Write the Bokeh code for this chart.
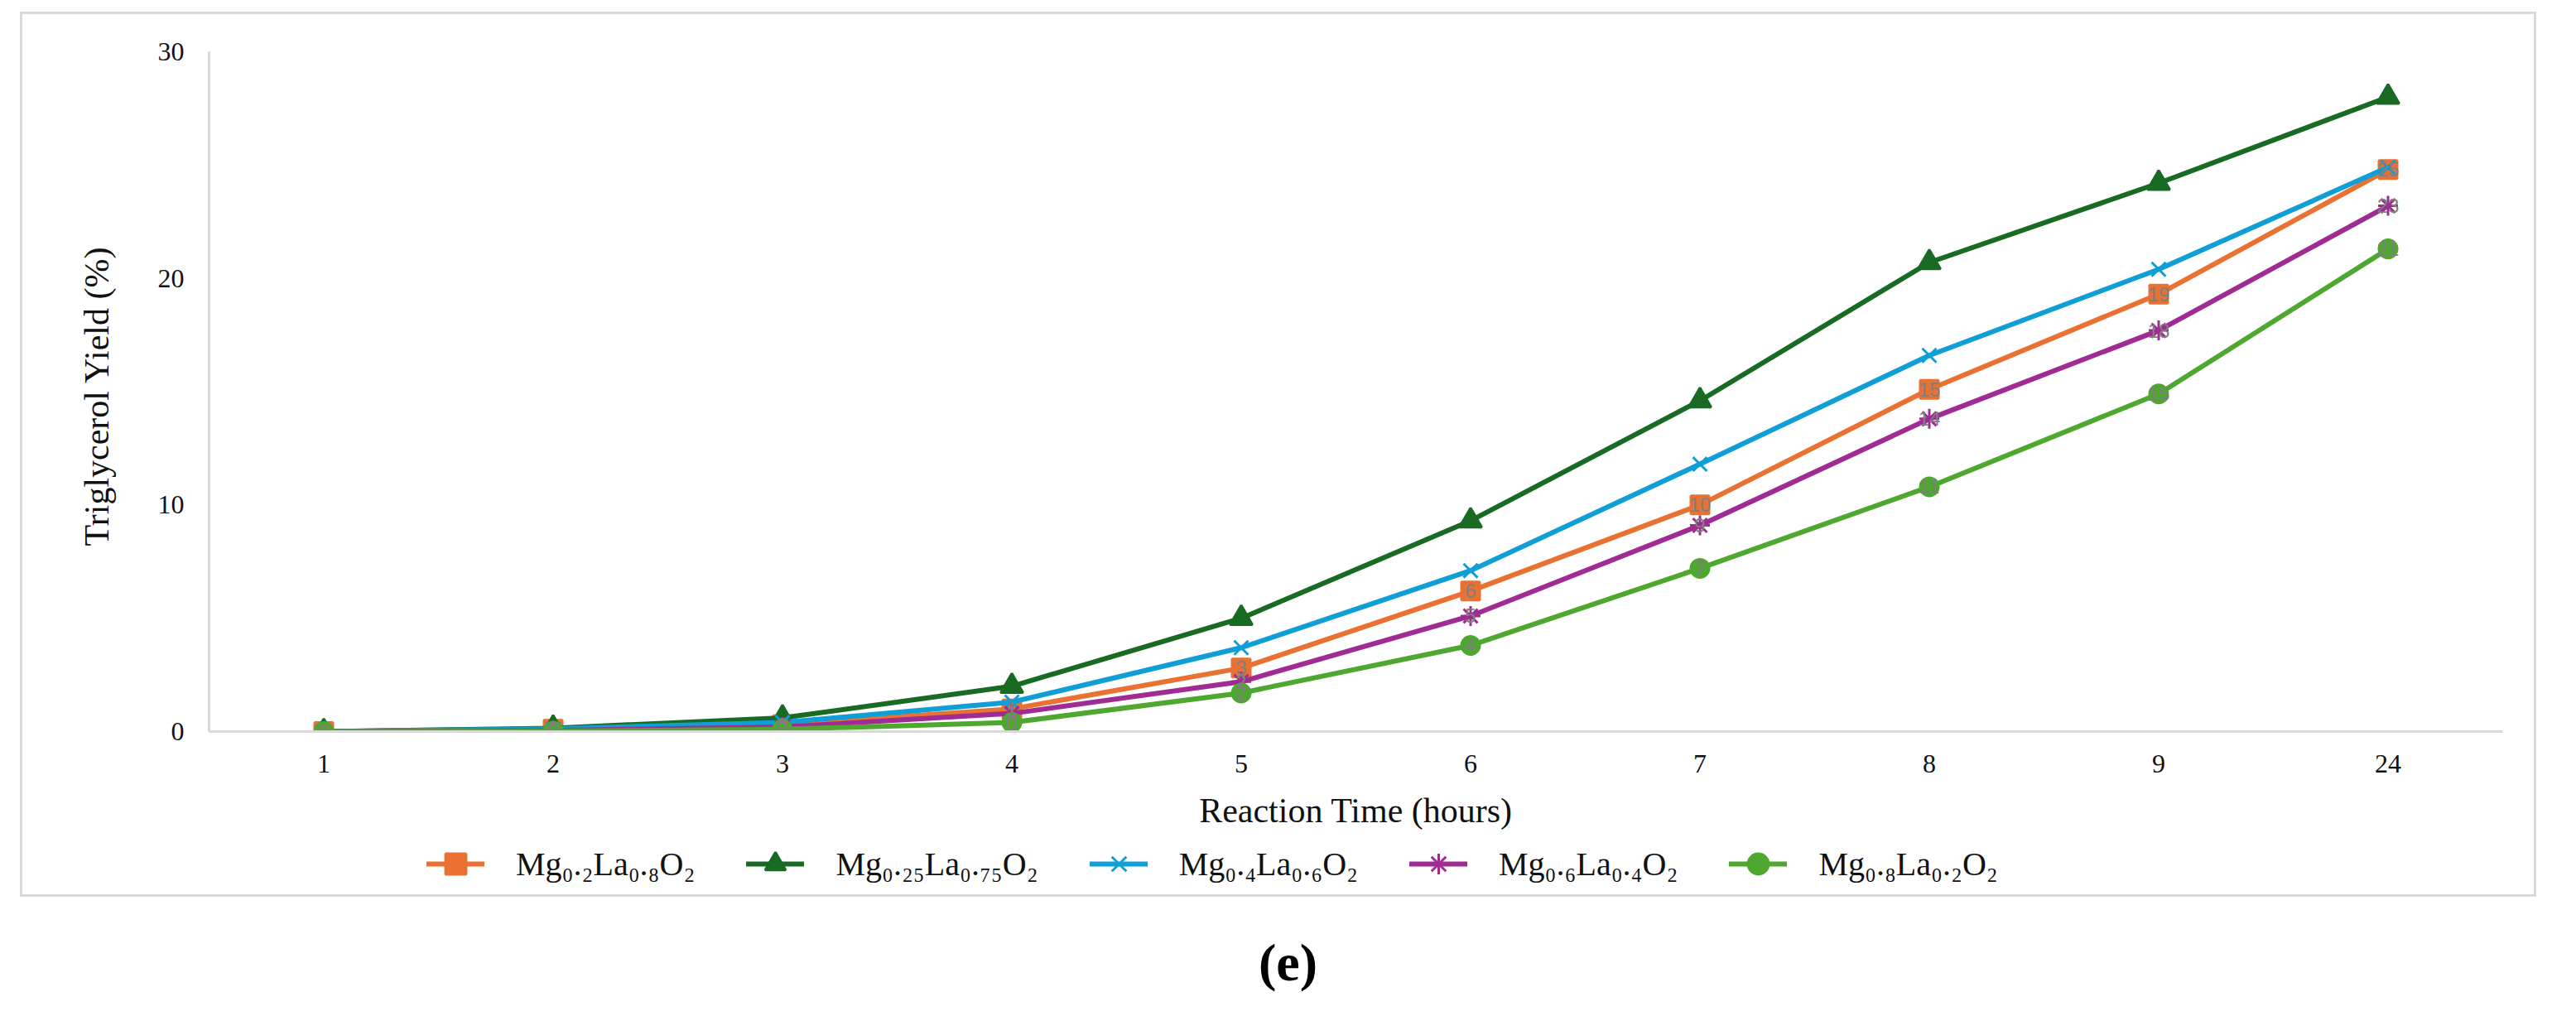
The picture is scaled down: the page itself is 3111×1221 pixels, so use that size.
from bokeh.plotting import figure
from bokeh.layouts import column
from bokeh.models import (FactorRange, Range1d, Legend, LegendItem, Div,
                          FixedTicker)
from bokeh.embed import file_html
from bokeh.resources import INLINE
from bokeh.core.properties import value

# ---- data ----
hours = ["1", "2", "3", "4", "5", "6", "7", "8", "9", "24"]
mg02_la08 = [0, 0.10, 0.30, 1.0, 2.8, 6.2, 10.0, 15.1, 19.3, 24.8]
mg025_la075 = [0, 0.15, 0.60, 2.0, 5.0, 9.3, 14.6, 20.7, 24.2, 28.0]
mg04_la06 = [0, 0.12, 0.40, 1.3, 3.7, 7.1, 11.8, 16.6, 20.4, 24.9]
mg06_la04 = [0, 0.05, 0.20, 0.8, 2.2, 5.1, 9.1, 13.8, 17.7, 23.2]
mg08_la02 = [0, 0.02, 0.10, 0.4, 1.7, 3.8, 7.2, 10.8, 14.9, 21.3]
y_ticks = [0, 10, 20, 30]

names = ["Mg₀.₂La₀.₈O₂", "Mg₀.₂₅La₀.₇₅O₂", "Mg₀.₄La₀.₆O₂",
         "Mg₀.₆La₀.₄O₂", "Mg₀.₈La₀.₂O₂"]
values = [mg02_la08, mg025_la075, mg04_la06, mg06_la04, mg08_la02]
colors = ["#E97132", "#196B24", "#0F9ED5", "#A02B93", "#4EA72E"]
markers = ["square", "triangle", "x", "asterisk", "circle"]
msizes = [22, 27, 24, 24, 22]
has_labels = [True, False, False, True, True]

SERIF = "Liberation Serif"
# chart box (outer light-grey border) in page pixels
BX0, BY0, BX1, BY1 = 24, 14, 3069, 1089
BW = 3
BORDER = f"{BW}px solid #D9D9D9"
OX, OY = BX0 + BW, BY0 + BW          # content origin
PW = BX1 - BX0 - 2 * BW
PH_TOTAL = BY1 - BY0 - 2 * BW
HM = 990                              # main figure height
HL = PH_TOTAL - HM                    # legend strip height
FL, FR, FT, FB = 252, 3022, 62, 883  # frame in page pixels

p = figure(width=PW, height=HM, x_range=FactorRange(*hours),
           y_range=Range1d(0, 30),
           output_backend="svg", toolbar_location=None,
           min_border_left=FL - OX, min_border_right=(OX + PW) - FR,
           min_border_top=FT - OY, min_border_bottom=(OY + HM) - FB,
           margin=(BY0, 0, 0, BX0),
           styles={"border": BORDER, "border-bottom": "none"})
p.outline_line_color = None
p.background_fill_color = "white"
p.border_fill_color = "white"
p.xgrid.visible = False
p.ygrid.visible = False

for ax in (p.xaxis[0], p.yaxis[0]):
    ax.axis_line_color = "#D9D9D9"
    ax.axis_line_width = 3
    ax.major_tick_line_color = None
    ax.minor_tick_line_color = None
    ax.major_tick_out = 0
    ax.major_tick_in = 0
    ax.major_label_text_font = SERIF
    ax.major_label_text_font_size = "32px"
    ax.major_label_text_color = "#111111"
    ax.axis_label_text_font = SERIF
    ax.axis_label_text_font_size = "42px"
    ax.axis_label_text_font_style = "normal"
    ax.axis_label_text_color = "#111111"

p.yaxis.ticker = FixedTicker(ticks=y_ticks)
p.yaxis.major_label_standoff = 30
p.yaxis.axis_label = "Triglycerol Yield  (%)"
p.yaxis.axis_label_standoff = 48
p.xaxis.major_label_standoff = 28
p.xaxis.axis_label = "Reaction Time (hours)"
p.xaxis.axis_label_standoff = 20

for vals, col, mk, ms in zip(values, colors, markers, msizes):
    p.line(hours, vals, line_color=col, line_width=6, line_join="round",
           line_cap="round")
    p.scatter(hours, vals, marker=mk, size=ms, fill_color=col,
              line_color=col, line_width=3)

for vals, lab in zip(values, has_labels):
    if lab:
        p.text(hours, vals, text=[f"{v:.0f}" for v in vals],
               text_font=value("Liberation Sans"), text_font_size="24px",
               text_color="#7F7F7F", text_align="center",
               text_baseline="middle")

# ---- legend strip: own figure, same series drawn out of view ----
pl = figure(width=PW, height=HL, x_range=FactorRange(*hours),
            y_range=Range1d(-200, -199),
            output_backend="svg", toolbar_location=None,
            x_axis_location=None, y_axis_location=None,
            min_border_left=0, min_border_right=0, min_border_top=0,
            min_border_bottom=0, margin=(0, 0, 0, BX0),
            styles={"border": BORDER, "border-top": "none"})
pl.outline_line_color = None
pl.grid.visible = False
pl.background_fill_color = "white"
pl.border_fill_color = "white"

items = []
for name, vals, col, mk, ms in zip(names, values, colors, markers, msizes):
    ln = pl.line(hours, vals, line_color=col, line_width=6, line_cap="round")
    sc = pl.scatter(hours, vals, marker=mk, size=ms, fill_color=col,
                    line_color=col, line_width=3)
    items.append(LegendItem(label=name, renderers=[ln, sc]))

legend = Legend(items=items, orientation="horizontal",
                location=(263, 9),
                border_line_color=None, background_fill_alpha=0, padding=0,
                margin=0, spacing=62, label_standoff=38, glyph_width=70,
                glyph_height=62, label_text_font=SERIF,
                label_text_font_size="40px", label_text_color="#111111")
pl.add_layout(legend)

cap = Div(text="(e)", width=3111, height=80, margin=(40, 0, 0, 0),
          styles={"font-family": SERIF, "font-weight": "bold",
                  "font-size": "64px", "text-align": "center",
                  "line-height": "80px", "color": "#000000"})

layout = column(p, pl, cap, spacing=0)
open("out.html", "w").write(file_html(layout, INLINE))
